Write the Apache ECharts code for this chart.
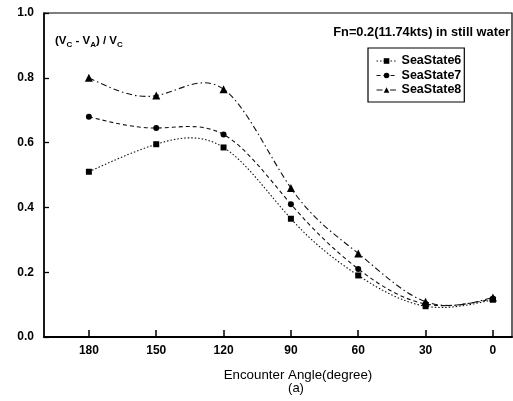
<!DOCTYPE html>
<html>
<head>
<meta charset="utf-8">
<script src="https://cdn.jsdelivr.net/npm/echarts@6/dist/echarts.min.js"></script>
<style>
html,body{margin:0;padding:0;background:#fff;}
#main{width:513px;height:401px;}
</style>
</head>
<body>
<div id="main"></div>
<script>
var angles=[180,150,120,90,60,30,0];
var seaState6=[0.51,0.595,0.585,0.365,0.19,0.095,0.115];
var seaState7=[0.68,0.645,0.625,0.41,0.21,0.102,0.118];
var seaState8=[0.80,0.745,0.765,0.46,0.258,0.109,0.122];
var xTicks=[0,30,60,90,120,150,180];
var names=['SeaState6','SeaState7','SeaState8'];
var dashes=[[1.5,2],[4,3],[6,3,1.5,3]];

var chart=echarts.init(document.getElementById('main'));
var font='"Liberation Sans", Arial, sans-serif';

function pairs(vals){
    var out=[];
    for(var i=0;i<angles.length;i++){
        out.push([angles[i],vals[i]]);
    }
    return out;
}

// natural cubic spline through the pixel points, as bezier path
function splinePath(pts){
    var n=pts.length-1;
    var h=[],i;
    for(i=0;i<n;i++) h.push(pts[i+1][0]-pts[i][0]);
    // solve for second derivatives
    var a=[],b=[],c=[],r=[],M=[];
    for(i=0;i<=n;i++){a[i]=0;b[i]=1;c[i]=0;r[i]=0;}
    for(i=1;i<n;i++){
        a[i]=h[i-1];b[i]=2*(h[i-1]+h[i]);c[i]=h[i];
        r[i]=6*((pts[i+1][1]-pts[i][1])/h[i]-(pts[i][1]-pts[i-1][1])/h[i-1]);
    }
    for(i=1;i<=n;i++){
        var m=a[i]/b[i-1];
        b[i]-=m*c[i-1];
        r[i]-=m*r[i-1];
    }
    M[n]=r[n]/b[n];
    for(i=n-1;i>=0;i--) M[i]=(r[i]-c[i]*M[i+1])/b[i];
    var d=[];
    for(i=0;i<n;i++){
        d[i]=(pts[i+1][1]-pts[i][1])/h[i]-h[i]*(2*M[i]+M[i+1])/6;
    }
    d[n]=(pts[n][1]-pts[n-1][1])/h[n-1]+h[n-1]*(M[n-1]+2*M[n])/6;
    var path='M'+pts[0][0]+' '+pts[0][1];
    for(i=0;i<n;i++){
        var k=h[i]/3;
        path+=' C'+(pts[i][0]+k)+' '+(pts[i][1]+d[i]*k)+' '+
            (pts[i+1][0]-k)+' '+(pts[i+1][1]-d[i+1]*k)+' '+
            pts[i+1][0]+' '+pts[i+1][1];
    }
    return path;
}

function curveSeries(vals,dash){
    return {
        type:'custom',
        data:pairs(vals),
        silent:true,
        z:2,
        renderItem:function(params,api){
            if(params.dataIndex!==0) return null;
            var pts=[];
            for(var i=0;i<angles.length;i++){
                pts.push(api.coord([angles[i],vals[i]]));
            }
            return {
                type:'path',
                shape:{pathData:splinePath(pts)},
                style:{stroke:'#111',fill:null,lineWidth:1.1,lineDash:dash}
            };
        }
    };
}

function markerSeries(name,vals,symbol,size){
    return {
        name:name,
        type:'line',
        symbol:symbol,
        symbolSize:size,
        data:pairs(vals),
        itemStyle:{color:'#000'},
        lineStyle:{opacity:0},
        emphasis:{disabled:true},
        z:3
    };
}

var legendData=[];
for(var j=0;j<names.length;j++){
    legendData.push({name:names[j],lineStyle:{color:'#111',width:1.1,type:dashes[j],opacity:1}});
}

option={
    animation:false,
    backgroundColor:'#fff',
    grid:{
        left:44,right:1,top:13,bottom:64,
        show:true,borderColor:'#000',borderWidth:1.2
    },
    legend:{
        orient:'vertical',
        left:368,top:48,
        data:legendData,
        backgroundColor:'#fff',
        borderColor:'#000',borderWidth:1.2,
        padding:[6,3,5,8],
        itemGap:0.5,
        itemWidth:20,itemHeight:7,
        textStyle:{fontFamily:font,fontSize:12.5,fontWeight:'bold',color:'#000',lineHeight:14}
    },
    xAxis:{
        type:'value',
        inverse:true,
        min:-8.5,max:200,
        axisLine:{lineStyle:{color:'#000',width:2}},
        axisTick:{inside:true,length:7,customValues:xTicks,lineStyle:{color:'#000',width:1.5}},
        axisLabel:{customValues:xTicks,fontFamily:font,fontSize:12,fontWeight:'bold',color:'#000',margin:8},
        splitLine:{show:false}
    },
    yAxis:{
        type:'value',
        min:0,max:1,interval:0.2,
        axisLine:{show:true,onZero:false,lineStyle:{color:'#000',width:1.5}},
        axisTick:{show:true,inside:true,length:5,lineStyle:{color:'#000',width:1.3}},
        axisLabel:{fontFamily:font,fontSize:12,fontWeight:'bold',color:'#000',margin:10,
            formatter:function(v){return v.toFixed(1);}},
        splitLine:{show:false}
    },
    graphic:[
        {
            type:'text',left:55,top:35,
            style:{
                text:'(V{s|C} - V{s|A}) / V{s|C}',
                font:'bold 11.5px '+font,
                fill:'#000',
                rich:{s:{fontSize:8,fontWeight:'bold',fontFamily:'Liberation Sans',verticalAlign:'bottom',padding:[7,0,0,0]}}
            }
        },
        {
            type:'text',right:3,top:26,
            style:{text:'Fn=0.2(11.74kts) in still water',font:'bold 12.8px '+font,fill:'#000'}
        },
        {
            type:'text',x:298,y:375,
            style:{text:'Encounter Angle(degree)',font:'13.3px '+font,fill:'#000',align:'center',verticalAlign:'middle'}
        },
        {
            type:'text',x:296,y:388,
            style:{text:'(a)',font:'13px '+font,fill:'#000',align:'center',verticalAlign:'middle'}
        }
    ],
    series:[
        markerSeries(names[0],seaState6,'rect',6),
        markerSeries(names[1],seaState7,'circle',6),
        markerSeries(names[2],seaState8,'triangle',8),
        curveSeries(seaState6,dashes[0]),
        curveSeries(seaState7,dashes[1]),
        curveSeries(seaState8,dashes[2])
    ]
};
chart.setOption(option);
</script>
</body>
</html>
